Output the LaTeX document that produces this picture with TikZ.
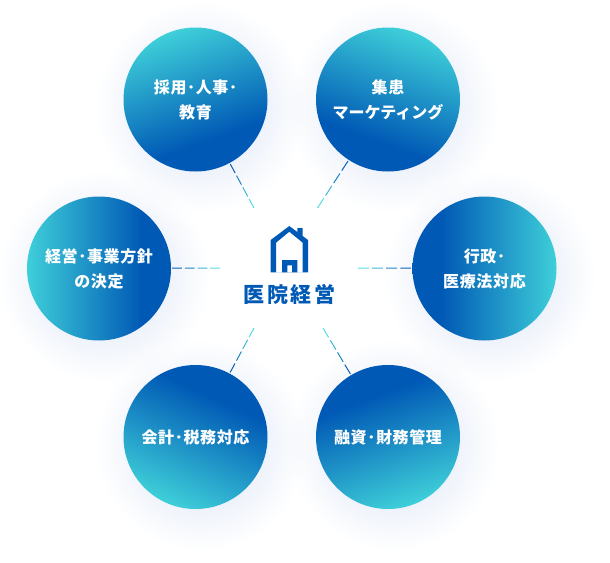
\documentclass[tikz,border=0pt]{standalone}
\usepackage{fontspec}
\usepackage{amsmath}
\usetikzlibrary{calc,fadings}
\setmainfont{Noto Sans CJK JP}
\newfontfamily\jpfont[LetterSpace=4]{Noto Sans CJK JP}
\newfontfamily\kanafont{Noto Sans CJK JP}
\newfontfamily\hubfont[LetterSpace=14]{Noto Sans CJK JP}
\definecolor{balldark}{HTML}{0059B5}
\definecolor{balllight}{HTML}{40D2DA}
\definecolor{glowblue}{HTML}{2A62C8}
\definecolor{linkdark}{HTML}{0A5FB8}
\definecolor{linklight}{HTML}{55DCE4}
\pgfdeclareverticalshading{ballshade}{100bp}{color(0bp)=(balldark); color(35bp)=(balldark); color(76bp)=(balllight); color(100bp)=(balllight)}
\tikzfading[name=softglow, inner color=transparent!0, outer color=transparent!100]
\tikzset{
	ball/.style={circle, shading=ballshade, minimum size=144pt, inner sep=0pt, align=center, text=white, font=\jpfont\bfseries\fontsize{16}{25}\selectfont},
	glow/.style={fill=glowblue, fill opacity=0.2, path fading=softglow},
	link/.style={line width=1pt}
}
\newcommand{\dashlink}[2]{
	\path (#1) -- (#2) coordinate[pos=0] (linkstart) coordinate[pos=1] (linkend);
	\foreach \i/\p in {0/0,1/30,2/70,3/100} {
		\pgfmathsetmacro{\a}{\i*0.26}
		\pgfmathsetmacro{\b}{\a+0.2}
		\draw[link, linkdark!\p!linklight] ($(linkstart)!\a!(linkend)$) -- ($(linkstart)!\b!(linkend)$);
	}
}
\begin{document}
\begin{tikzpicture}[x=1pt, y=-1pt]
	\useasboundingbox (0,0) rectangle (610,562);
	% soft shadows
	\foreach \bx/\by in {196/99, 388/99, 485/268, 99/268, 196/437, 388/437}
		\fill[glow] (\bx+5,\by+8) circle (105pt);
	% balls
	\node[ball, shading angle=20] (ballTL) at (195.5,99.5) {採用･人事･\\教育};
	\node[ball, shading angle=-20] (ballTR) at (388,99.5) {集患\\{\kanafont\bfseries マーケティング}};
	\node[ball, shading angle=-90] (ballR) at (484.5,268.5) {行政･\\医療法対応};
	\node[ball, shading angle=90] (ballL) at (99,268.5) {経営･事業方針\\の決定};
	\node[ball, shading angle=155] (ballBL) at (195.5,437) {会計･税務対応};
	\node[ball, shading angle=200] (ballBR) at (388,437) {融資･財務管理};
	% inner ends of the links
	\coordinate (hubTL) at (254,208);
	\coordinate (hubTR) at (317.5,208);
	\coordinate (hubR) at (358,268);
	\coordinate (hubL) at (220,268);
	\coordinate (hubBL) at (254,328);
	\coordinate (hubBR) at (323,328);
	\dashlink{hubTL}{ballTL}
	\dashlink{hubTR}{ballTR}
	\dashlink{hubR}{ballR}
	\dashlink{hubL}{ballL}
	\dashlink{hubBL}{ballBL}
	\dashlink{hubBR}{ballBR}
	% house
	\fill[balldark, even odd rule]
		(270.7,272.3) -- (270.7,240) -- (289.3,226) -- (297.3,232) -- (297.3,228) -- (302.7,228) -- (302.7,236) -- (308,240) -- (308,272.3) -- cycle
		(276,272.3) -- (276,242.7) -- (289.3,231.7) -- (302.7,242.7) -- (302.7,272.3) -- cycle;
	\fill[balldark, even odd rule]
		(282,272.3) rectangle (297.3,260)
		(287.3,272.3) rectangle (292,265.3);
	\node[text=balldark, font=\hubfont\bfseries\fontsize{21}{24}\selectfont] (hubtitle) at (289.5,294) {医院経営};
\end{tikzpicture}
\end{document}
